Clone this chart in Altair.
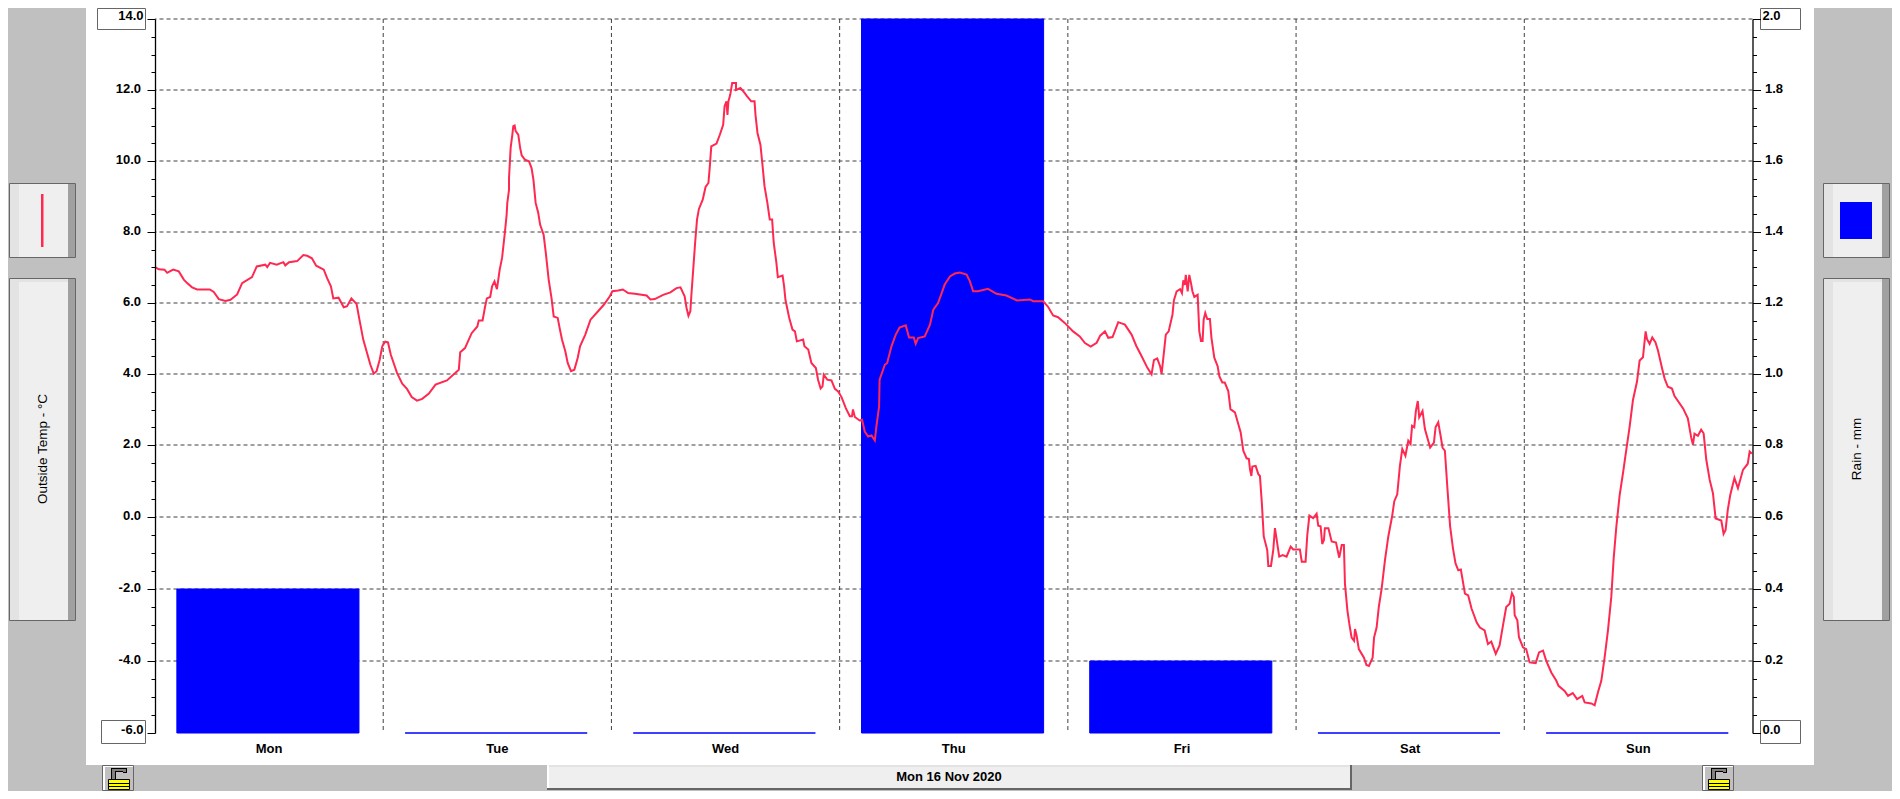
import altair as alt
import pandas as pd

# ---- temperature trace: hour of the week, deg C ----
hours = [0,0.4,1.0,1.28,1.56,1.91,2.5,3.03,3.38,3.9,4.43,5.76,6.18,6.71,7.41,7.94,8.64,9.16,10.2,10.7,11.6,11.8,12.1,12.8,13.5,13.7,14.1,14.95,15.6,16.0,16.5,16.95,17.75,18.1,18.5,18.75,19.3,19.85,20.2,20.65,21.2,21.5,21.9,22.3,22.65,23.0,23.3,23.63,23.9,24.2,24.5,24.8,25.45,26.0,26.5,27.0,27.55,28.1,28.8,29.5,30.7,31.95,32.1,32.6,33.3,33.9,34.05,34.45,34.7,34.9,35.25,35.45,35.7,35.96,36.25,36.5,36.8,36.98,37.05,37.23,37.23,37.4,37.58,37.68,37.82,37.93,38.2,38.4,38.56,38.9,39.33,39.6,39.8,40.03,40.3,40.5,40.77,40.87,41.1,41.4,41.7,41.93,42.35,42.55,42.8,43.15,43.4,43.75,44.1,44.45,44.7,45.25,45.8,46.5,47.2,47.83,48.1,48.7,49.2,49.76,50.45,51.7,52.1,52.56,53.44,54.2,54.84,55.26,55.7,55.9,56.1,56.3,56.4,56.6,56.8,57.0,57.2,57.6,57.9,58.2,58.35,58.5,59.05,59.4,59.75,59.9,60.1,60.2,60.3,60.5,60.7,61.1,61.1,61.57,62,62.27,62.7,63.05,63.15,63.36,63.67,63.9,64.1,64.4,64.65,64.9,65.07,65.35,65.5,66.0,66.16,66.3,66.7,67.04,67.3,67.5,68.16,68.3,68.7,69.03,69.5,69.73,70,70.2,70.33,70.7,71.14,71.5,71.84,72.2,72.65,73.07,73.3,73.4,73.6,74.1,74.36,74.64,75,75.35,75.7,75.87,76.15,76.2,76.57,76.75,77,77.45,77.9,78.3,78.95,79.3,79.8,80,80.25,80.95,81.5,81.85,82.35,83.05,83.6,84.1,84.63,85.35,85.7,86.04,86.56,87.6,88.5,89.54,90.66,92,92.35,93.4,93.9,94.45,94.97,95.67,96.55,97.25,97.8,98.4,99.03,99.4,99.9,100.25,100.7,101.3,102,102.7,103.2,103.76,104.35,104.8,105.05,105.4,105.7,105.86,106.1,106.3,106.6,107,107.15,107.44,107.8,108,108.14,108.3,108.4,108.6,108.77,108.95,109.1,109.3,109.65,109.82,110,110.17,110.28,110.45,110.66,110.94,111.1,111.4,111.75,111.93,112.24,112.5,112.87,113.1,113.57,113.92,114.17,114.45,114.8,115.04,115.15,115.3,115.4,115.75,116.03,116.2,116.4,116.6,116.97,117.08,117.36,117.6,117.78,118.02,118.23,118.6,119,119.43,119.7,120.4,120.6,121,121.18,121.4,121.8,122.16,122.33,122.58,122.75,122.93,123.03,123.4,123.74,124.2,124.54,124.8,125.03,125.14,125.4,125.6,125.84,126.1,126.2,126.37,126.6,127.14,127.4,127.66,128.05,128.2,128.47,128.7,129,129.35,129.7,130.1,130.33,130.64,130.92,131.17,131.5,131.8,132.04,132.2,132.43,132.6,132.8,132.95,133.3,133.55,134.1,134.5,134.67,134.95,135.2,135.4,135.65,135.9,136.2,136.5,136.77,137.06,137.33,137.76,138.1,138.46,139,139.33,139.83,140.18,140.53,141,141.4,141.76,142.1,142.46,142.7,142.9,142.99,143.27,143.44,143.86,144.2,144.56,145.2,145.55,145.97,146.3,146.84,147.37,147.6,148.24,148.6,149.1,149.55,150.1,150.35,151.05,151.4,151.75,152.1,152.45,152.8,153.15,153.4,153.68,154.03,154.38,154.73,155.08,155.43,155.85,156.13,156.48,156.76,156.9,157.18,157.46,157.8,158.06,158.5,158.76,159.1,159.53,159.8,160.7,161.2,161.56,161.74,161.9,162.26,162.6,162.86,163.14,163.5,163.84,164.12,164.72,164.96,165.17,165.4,165.66,166.1,166.47,167,167.5,167.7,167.94]
temps = [7.01,6.95,6.94,6.85,6.89,6.94,6.89,6.66,6.56,6.44,6.38,6.38,6.31,6.11,6.06,6.09,6.24,6.56,6.73,7.03,7.08,7.01,7.13,7.08,7.15,7.06,7.15,7.18,7.35,7.33,7.26,7.05,6.94,6.7,6.47,6.13,6.15,5.88,5.91,6.13,5.97,5.53,4.97,4.59,4.26,4.01,4.08,4.4,4.78,4.91,4.89,4.54,4.03,3.73,3.58,3.35,3.25,3.3,3.45,3.7,3.82,4.12,4.61,4.73,5.15,5.34,5.51,5.51,5.88,6.13,6.17,6.47,6.61,6.39,6.94,7.27,8.0,8.49,8.82,9.19,9.52,10.37,10.74,10.98,11.0,10.84,10.74,10.37,10.16,10.04,9.99,9.8,9.47,8.82,8.54,8.21,8.0,7.92,7.41,6.66,6.14,5.62,5.58,5.3,4.97,4.64,4.31,4.08,4.12,4.45,4.78,5.11,5.53,5.74,5.95,6.19,6.33,6.35,6.38,6.28,6.26,6.21,6.1,6.11,6.23,6.3,6.42,6.44,6.19,5.86,5.64,5.77,6.19,6.94,7.69,8.35,8.65,8.91,9.27,9.38,9.85,10.41,10.49,10.74,11.02,11.54,11.68,11.3,11.68,11.87,12.2,12.2,12.0,12.06,11.92,11.82,11.68,11.68,11.3,10.79,10.46,9.85,9.29,8.82,8.35,8.35,7.69,7.13,6.73,6.77,6.47,6.09,5.58,5.25,5.2,4.92,4.97,4.78,4.69,4.31,4.17,3.84,3.59,3.65,3.98,3.84,3.82,3.58,3.51,3.35,3.04,2.81,2.81,3.0,2.79,2.69,2.71,2.38,2.24,2.27,2.13,2.53,3.09,3.84,4.12,4.26,4.31,4.78,5.11,5.31,5.37,5.03,5.03,4.85,5.01,5.06,5.39,5.81,6.0,6.52,6.75,6.83,6.86,6.8,6.61,6.33,6.33,6.4,6.26,6.21,6.07,6.1,6.05,6.05,5.9,5.65,5.6,5.44,5.2,5.06,4.87,4.77,4.88,5.08,5.2,5.02,5.04,5.46,5.39,5.11,4.79,4.5,4.18,3.99,4.39,4.44,4.22,4.0,4.6,5.11,5.2,5.67,6.07,6.33,6.39,6.28,6.64,6.51,6.79,6.33,6.79,6.56,6.33,6.17,6.23,5.21,4.93,4.93,5.53,5.72,5.55,5.55,5.02,4.46,4.22,3.94,3.76,3.76,3.52,3.01,2.92,2.59,2.36,1.84,1.63,1.61,1.33,1.14,1.4,1.42,1.19,1.14,0.39,-0.54,-0.92,-1.36,-1.36,-0.92,-0.31,-0.73,-1.1,-1.06,-1.1,-0.82,-0.9,-0.9,-1.24,-1.24,-0.5,0.04,-0.03,0.09,-0.24,-0.26,-0.75,-0.64,-0.31,-0.31,-0.68,-0.71,-1.13,-0.78,-0.78,-1.85,-2.6,-2.97,-3.35,-3.44,-3.11,-3.3,-3.67,-3.91,-4.11,-4.14,-3.91,-3.35,-3.07,-2.5,-1.99,-1.2,-0.54,0.02,0.44,0.63,1.42,1.89,1.7,2.12,2.03,2.54,2.5,2.96,3.24,2.78,2.96,2.45,1.93,2.07,2.5,2.64,2.26,1.93,1.84,0.86,-0.26,-0.87,-1.29,-1.48,-1.46,-2.13,-2.18,-2.55,-2.93,-3.07,-3.15,-3.53,-3.46,-3.8,-3.57,-3.01,-2.5,-2.41,-2.11,-2.22,-2.73,-2.87,-3.34,-3.62,-3.67,-4.04,-4.06,-3.76,-3.71,-3.99,-4.32,-4.55,-4.69,-4.83,-4.97,-4.89,-5.06,-4.97,-5.15,-5.18,-5.23,-4.87,-4.55,-3.9,-3.15,-2.22,-1.15,-0.27,0.61,1.22,1.87,2.52,3.27,3.78,4.38,4.47,5.2,4.99,4.85,5.03,4.89,4.66,4.15,3.87,3.64,3.59,3.38,3.03,2.75,2.2,2.01,2.32,2.26,2.43,2.33,1.59,1.03,0.66,-0.04,-0.1,-0.47,-0.36,0.2,0.61,1.08,0.8,1.31,1.48,1.82,1.76]

days = ["Mon", "Tue", "Wed", "Thu", "Fri", "Sat", "Sun"]
rain = [0.4, 0, 0, 2.0, 0.2, 0, 0]
bar_from = [2.3, 26.3, 50.3, 74.3, 98.3, 122.3, 146.3]
bar_to = [21.45, 45.45, 69.45, 93.45, 117.45, 141.45, 165.45]
day_mid = [12, 36, 60, 84, 108, 132, 156]
week_ticks = [0, 24, 48, 72, 96, 120, 144, 168]

temp_ticks = [-6 + 0.5 * i for i in range(41)]
temp_grid = [-4, -2, 0, 2, 4, 6, 8, 10, 12, 14]
temp_labels = [-4, -2, 0, 2, 4, 6, 8, 10, 12]
temp_ends = [14, -6]
rain_ticks = [round(0.05 * i, 2) for i in range(41)]
rain_labels = [0.2, 0.4, 0.6, 0.8, 1.0, 1.2, 1.4, 1.6, 1.8]
rain_ends = [2.0, 0.0]

LEFT, TOP, W, H = 155, 19, 1597.5, 714
RED, BLUE = "#ff2850", "#0000ff"
GRAY, LIGHT, FACE, EDGE, SHADE = "#c0c0c0", "#e3e3e3", "#efefef", "#666666", "#a0a0a0"
FONT = "Liberation Sans"
# the reference's pixel grid is 71 px per step above +2 and 72 px per step below it
Y_RANGE = [714, 426, 0]
T_SCALE = alt.Scale(domain=[-6, 2, 14], range=Y_RANGE)
R_SCALE = alt.Scale(domain=[0, 0.8, 2], range=Y_RANGE)
X_SCALE = alt.Scale(domain=[0, 168])

# ---- window furniture, page pixels (x0, y0, x1, y1, fill, stroke) ----
boxes = [(86, 2, 1814, 765, "#ffffff", "none")]


def button(x0, y0, x1, y1):
    boxes.extend([
        (x0 + .5, y0 + .5, x1 - .5, y1 - .5, FACE, EDGE),
        (x0 + 1, y0 + 1, x0 + 10, y1 - 1, LIGHT, "none"),
        (x1 - 8, y0 + 1, x1 - 1, y1 - 1, SHADE, "none"),
    ])


def tall_button(x0, y0, x1, y1):
    button(x0, y0, x1, y1)
    boxes.append((x0 + 10, y0 + 1, x1 - 8, y0 + 4, LIGHT, "none"))


def lock(x0):
    boxes.extend([
        (x0 + .5, 765.5, x0 + 31.5, 790.5, "#ffffff", EDGE),
        (x0 + 3, 767, x0 + 31, 790, GRAY, "none"),
        (x0 + 9, 768, x0 + 25, 779, "#000000", "none"),
        (x0 + 10, 769, x0 + 24, 779, "#808080", "none"),
        (x0 + 14, 772, x0 + 25, 779, GRAY, "none"),
        (x0 + 13, 771, x0 + 14, 779, "#000000", "none"),
        (x0 + 14, 771, x0 + 21, 772, "#000000", "none"),
        (x0 + 21, 772, x0 + 25, 773, "#000000", "none"),
        (x0 + 6.5, 779.5, x0 + 27.5, 789.5, "#ffff00", "#000000"),
        (x0 + 6, 783, x0 + 28, 784, "#000000", "none"),
        (x0 + 6, 786, x0 + 28, 787, "#000000", "none"),
    ])


button(9, 183, 76, 258)
tall_button(9, 278, 76, 621)
button(1823, 183, 1890, 258)
tall_button(1823, 278, 1890, 621)
boxes.append((41, 194, 43.5, 247, RED, "none"))
boxes.append((1840, 202, 1872, 239, BLUE, "none"))
boxes.extend([
    (547, 765, 1352, 790, EDGE, "none"),
    (547, 765, 1350, 788, FACE, "none"),
    (547, 765, 549, 788, "#ffffff", "none"),
    (549, 765, 1350, 767, LIGHT, "none"),
])
lock(102)
lock(1702)
boxes.extend([
    (97.5, 8.5, 145.5, 29.5, "#ffffff", EDGE),
    (101.5, 720.5, 145.5, 743.5, "#ffffff", EDGE),
    (1760.5, 8.5, 1800.5, 29.5, "#ffffff", EDGE),
    (1760.5, 720.5, 1800.5, 743.5, "#ffffff", EDGE),
])

box_df = pd.DataFrame(boxes, columns=["x0", "y0", "x1", "y1", "fill", "stroke"])
box_df["order"] = range(len(box_df))
box_df[["x0", "x1"]] -= LEFT
box_df[["y0", "y1"]] -= TOP

furniture = alt.Chart(box_df).mark_rect(strokeWidth=1).encode(
    x=alt.X("x0:Q", scale=None, axis=None),
    x2="x1:Q",
    y=alt.Y("y0:Q", scale=None, axis=None),
    y2="y1:Q",
    fill=alt.Fill("fill:N", scale=None),
    stroke=alt.Stroke("stroke:N", scale=None),
    order="order:Q",
)

grid_style = dict(color="#404040", strokeWidth=1, strokeDash=[4, 3])
h_grid = alt.Chart(pd.DataFrame({"t": temp_grid})).mark_rule(**grid_style).encode(
    y=alt.Y("t:Q", scale=T_SCALE, axis=None)
)
v_grid = alt.Chart(pd.DataFrame({"h": week_ticks[1:-1]})).mark_rule(**grid_style).encode(
    x=alt.X("h:Q", scale=X_SCALE, axis=None)
)

rain_df = pd.DataFrame({"from": bar_from, "to": bar_to, "rain": rain})
rain_axis = alt.Axis(
    orient="right", values=rain_ticks, labels=False, title=None, grid=False,
    domainColor="#000000", tickColor="#000000", domainWidth=1.3, tickWidth=1,
    tickSize={"condition": {"test": "round(datum.value * 100) % 20 === 0", "value": 8}, "value": 4},
    zindex=1,
)
bars = alt.Chart(rain_df).mark_rect(color=BLUE, stroke=BLUE, strokeWidth=1).encode(
    x=alt.X("from:Q", scale=X_SCALE, axis=None),
    x2="to:Q",
    y=alt.Y("rain:Q", scale=R_SCALE, axis=rain_axis),
    y2=alt.datum(0),
)

temp_axis = alt.Axis(
    orient="left", values=temp_ticks, labels=False, title=None, grid=False,
    domainColor="#000000", tickColor="#000000", domainWidth=1.3, tickWidth=1,
    tickSize={"condition": {"test": "datum.value % 2 === 0", "value": 8}, "value": 4},
    zindex=1,
)
x_axis = alt.Axis(
    orient="bottom", values=week_ticks, labels=False, title=None, grid=False,
    domainColor="#000000", tickColor="#000000", domainWidth=1.3, tickWidth=1,
    tickSize=7, zindex=1,
)
line = alt.Chart(pd.DataFrame({"h": hours, "t": temps})).mark_line(
    color=RED, strokeWidth=2, interpolate="linear"
).encode(
    x=alt.X("h:Q", scale=X_SCALE, axis=x_axis),
    y=alt.Y("t:Q", scale=T_SCALE, axis=temp_axis),
    order=alt.Order("idx:Q"),
).transform_window(idx="row_number()")

label_style = dict(font=FONT, fontSize=13, fontWeight="bold", color="#000000", baseline="middle")


def label_frame(values):
    # plain hyphen-minus in the labels, as the reference has
    return pd.DataFrame({"v": values, "s": [f"{v:.1f}" for v in values]})


t_labels = alt.Chart(label_frame(temp_labels)).mark_text(align="right", dy=-1, **label_style).encode(
    x=alt.value(141 - LEFT),
    y=alt.Y("v:Q", scale=T_SCALE, axis=None),
    text="s:N",
)
t_ends = alt.Chart(label_frame(temp_ends)).mark_text(align="right", dy=-3.5, **label_style).encode(
    x=alt.value(143.5 - LEFT),
    y=alt.Y("v:Q", scale=T_SCALE, axis=None),
    text="s:N",
)
r_labels = alt.Chart(label_frame(rain_labels)).mark_text(align="left", dy=-1, **label_style).encode(
    x=alt.value(1765 - LEFT),
    y=alt.Y("v:Q", scale=R_SCALE, axis=None),
    text="s:N",
)
r_ends = alt.Chart(label_frame(rain_ends)).mark_text(align="left", dy=-3.5, **label_style).encode(
    x=alt.value(1762.5 - LEFT),
    y=alt.Y("v:Q", scale=R_SCALE, axis=None),
    text="s:N",
)
day_labels = alt.Chart(pd.DataFrame({"h": day_mid, "d": days})).mark_text(align="center", **label_style).encode(
    x=alt.X("h:Q", scale=X_SCALE, axis=None),
    y=alt.value(749 - TOP),
    text="d:N",
)
date_label = alt.Chart(pd.DataFrame({"s": ["Mon 16 Nov 2020"]})).mark_text(align="center", **label_style).encode(
    x=alt.value(949 - LEFT), y=alt.value(777 - TOP), text="s:N"
)
side_style = dict(font=FONT, fontSize=13.5, color="#000000", angle=270, align="center", baseline="middle")
temp_title = alt.Chart(pd.DataFrame({"s": ["Outside Temp - °C"]})).mark_text(**side_style).encode(
    x=alt.value(42.5 - LEFT), y=alt.value(449 - TOP), text="s:N"
)
rain_title = alt.Chart(pd.DataFrame({"s": ["Rain - mm"]})).mark_text(**side_style).encode(
    x=alt.value(1857 - LEFT), y=alt.value(449 - TOP), text="s:N"
)

TOTAL_W, TOTAL_H = 1884, 783
chart = alt.layer(
    furniture, h_grid, v_grid, bars, line, t_labels, t_ends, r_labels, r_ends,
    day_labels, date_label, temp_title, rain_title,
).resolve_scale(y="independent").resolve_axis(y="independent").properties(
    width=W,
    height=H,
    background=GRAY,
    padding={"left": LEFT - 8, "top": TOP - 8, "right": TOTAL_W - (LEFT - 8) - W, "bottom": TOTAL_H - (TOP - 8) - H},
    autosize=alt.AutoSizeParams(type="none"),
).configure_view(stroke=None)

chart.save("out.html", embed_options={"renderer": "svg", "actions": False})
